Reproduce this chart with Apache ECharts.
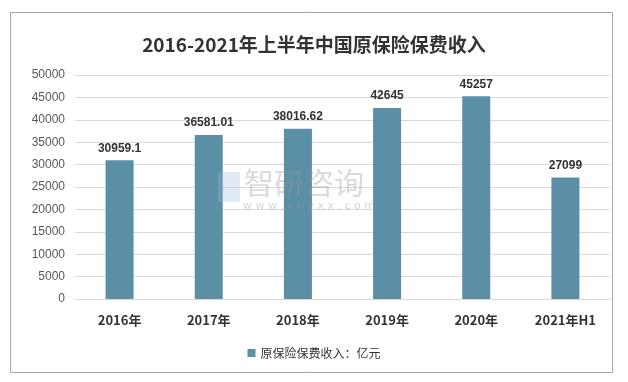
<!DOCTYPE html>
<html><head><meta charset="utf-8">
<script src="https://cdn.jsdelivr.net/npm/echarts@6/dist/echarts.min.js"></script>
<style>html,body{margin:0;padding:0;background:#fff}#c{width:628px;height:382px}</style>
</head><body><div id="c"></div>
<script>
const categories = ['2016年','2017年','2018年','2019年','2020年','2021年H1'];
const values = [30959.1, 36581.01, 38016.62, 42645, 45257, 27099];
const valueLabels = ['30959.1','36581.01','38016.62','42645','45257','27099'];
const seriesName = '原保险保费收入：亿元';
const titleText = '2016-2021年上半年中国原保险保费收入';

const chart = echarts.init(document.getElementById('c'));
chart.setOption({
  animation: false,
  backgroundColor: '#fff',
  title: {
    text: titleText, left: 'center', top: 30,
    textStyle: {fontFamily: '"Noto Sans CJK SC", sans-serif', fontWeight: 'bold', fontSize: 19, color: '#333'}
  },
  graphic: [
    {type: 'rect', shape: {x: 10.5, y: 12.5, width: 602, height: 360}, style: {fill: 'none', stroke: '#a6a6a6', lineWidth: 1}, z: -1},
    {type: 'text', left: 244, top: 168, style: {text: '智研咨询', fontSize: 30, fill: 'rgba(150,150,150,0.35)', fontFamily: '"Noto Sans CJK SC", sans-serif'}, z: 100},
    {type: 'text', left: 243, top: 201, style: {text: 'w w w . c h y x x . c o m', fontSize: 11, fill: 'rgba(150,150,150,0.4)', fontFamily: 'DejaVu Sans, sans-serif'}, z: 100},
    {type: 'rect', shape: {x: 218, y: 172, width: 22, height: 30}, style: {fill: 'rgba(160,185,215,0.3)'}, z: 100}
  ],
  legend: {
    bottom: 18, left: 'center', itemWidth: 8, itemHeight: 8, icon: 'rect',
    textStyle: {fontFamily: '"Noto Sans CJK SC", sans-serif', fontSize: 12, color: '#333'},
    data: [seriesName]
  },
  grid: {left: 75, right: 18, top: 75, bottom: 83, containLabel: false},
  xAxis: {
    type: 'category', data: categories,
    axisLine: {lineStyle: {color: '#d9d9d9'}},
    axisTick: {show: false},
    axisLabel: {margin: 15, fontFamily: '"Noto Sans CJK SC", sans-serif', fontWeight: 'bold', fontSize: 13, color: '#333'}
  },
  yAxis: {
    type: 'value', min: 0, max: 50000, interval: 5000,
    axisLine: {show: false}, axisTick: {show: false},
    axisLabel: {margin: 10, formatter: v => String(v), fontFamily: '"Liberation Sans", Arial, sans-serif', fontSize: 12, color: '#595959'},
    splitLine: {lineStyle: {color: '#d9d9d9'}}
  },
  series: [{
    name: seriesName, type: 'bar', data: values, barWidth: 28,
    itemStyle: {color: '#5b8fa6'},
    label: {
      show: true, position: 'top', distance: 6,
      formatter: p => valueLabels[p.dataIndex],
      fontFamily: '"Liberation Sans", Arial, sans-serif', fontWeight: 'bold', fontSize: 12, color: '#333'
    }
  }]
});
</script></body></html>
